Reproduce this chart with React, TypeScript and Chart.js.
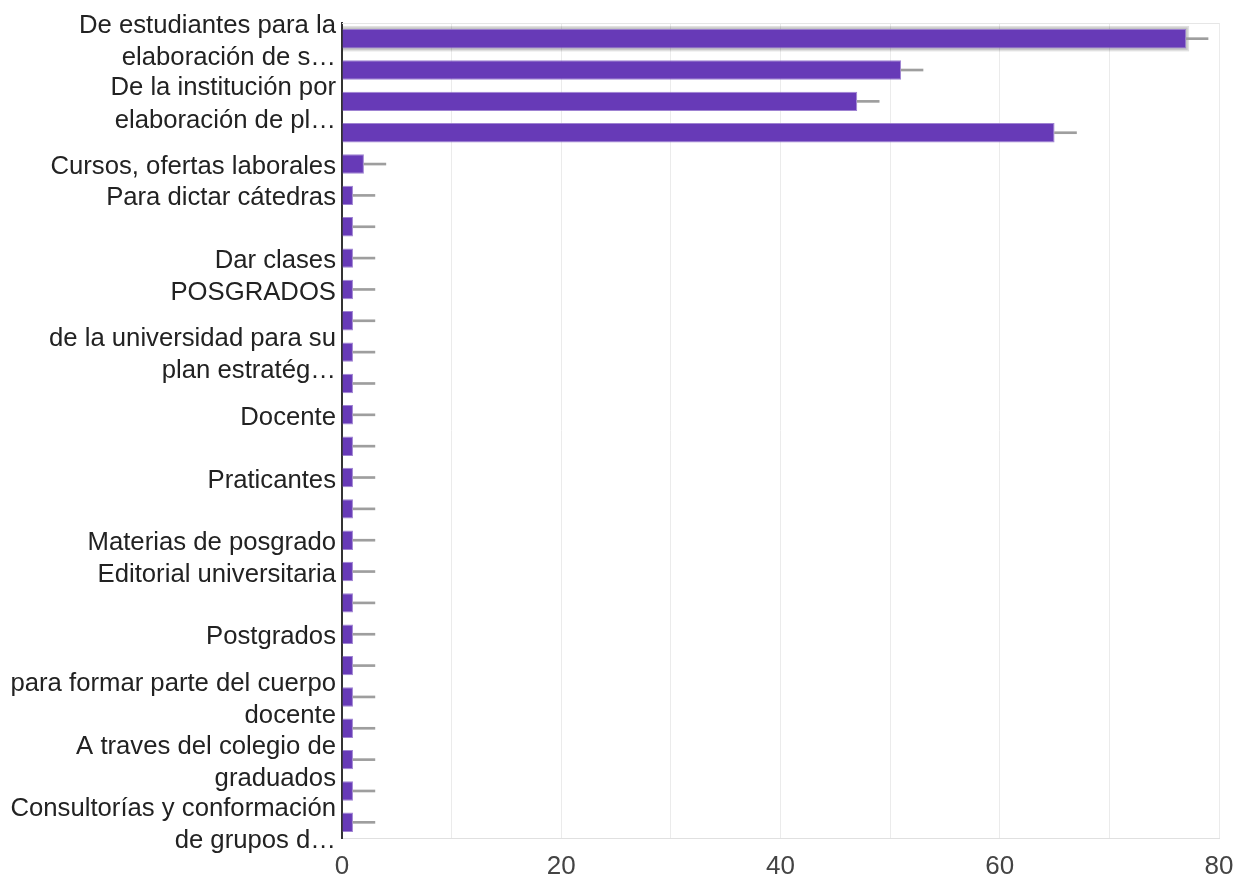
import React, { useEffect, useRef } from "react";
import { Chart, registerables } from "chart.js";

Chart.register(...registerables);

const categories: (string | string[])[] = [
  ["De estudiantes para la", "elaboración de s…"],
  "",
  ["De la institución por", "elaboración de pl…"],
  "",
  "Cursos, ofertas laborales",
  "Para dictar cátedras",
  "",
  "Dar clases",
  "POSGRADOS",
  "",
  ["de la universidad para su", "plan estratég…"],
  "",
  "Docente",
  "",
  "Praticantes",
  "",
  "Materias de posgrado",
  "Editorial universitaria",
  "",
  "Postgrados",
  "",
  ["para formar parte del cuerpo", "docente"],
  "",
  ["A traves del colegio de", "graduados"],
  "",
  ["Consultorías y conformación", "de grupos d…"],
];

const counts = [77, 51, 47, 65, 2, 1, 1, 1, 1, 1, 1, 1, 1, 1, 1, 1, 1, 1, 1, 1, 1, 1, 1, 1, 1, 1];
const errorHigh = [79, 53, 49, 67, 4, 3, 3, 3, 3, 3, 3, 3, 3, 3, 3, 3, 3, 3, 3, 3, 3, 3, 3, 3, 3, 3];
const xTickLabels = [0, 20, 40, 60, 80];

const FONT = "'Liberation Sans', Arial, sans-serif";
const BAR = "#673ab7";

const framePlugin = {
  id: "frame",
  beforeDatasetsDraw(chart: any) {
    const { ctx, chartArea } = chart;
    ctx.save();
    ctx.strokeStyle = "#e6e6e6";
    ctx.lineWidth = 1;
    ctx.beginPath();
    ctx.moveTo(chartArea.left, chartArea.top + 0.5);
    ctx.lineTo(chartArea.right + 0.5, chartArea.top + 0.5);
    ctx.stroke();
    const el: any = chart.getDatasetMeta(0).data[0];
    if (el) {
      const p = el.getProps(["x", "y", "base", "height"], true);
      const left = Math.min(p.base, p.x);
      const right = Math.max(p.base, p.x);
      ctx.fillStyle = "rgba(0,0,0,0.12)";
      ctx.fillRect(left, p.y - p.height / 2 - 3, right - left + 3, p.height + 6);
      ctx.fillRect(left, p.y - p.height / 2 - 1.5, right - left + 1.5, p.height + 3);
    }
    ctx.restore();
  },
};

export default function App() {
  const ref = useRef<HTMLCanvasElement | null>(null);
  useEffect(() => {
    if (!ref.current) return;
    const chart = new Chart(ref.current, {
      type: "bar",
      data: {
        labels: categories,
        datasets: [
          {
            data: counts,
            backgroundColor: BAR,
            borderColor: "rgba(149,117,205,0.9)",
            borderWidth: 1,
            categoryPercentage: 1,
            barPercentage: 0.62,
            grouped: false,
            order: 2,
          },
          {
            data: counts.map((v, i) => [v, errorHigh[i]]) as any,
            backgroundColor: "#9e9e9e",
            borderWidth: 0,
            barThickness: 2,
            grouped: false,
            order: 1,
          },
        ],
      },
      options: {
        indexAxis: "y",
        animation: false,
        responsive: true,
        maintainAspectRatio: false,
        layout: { padding: { left: 0, right: 30, top: 23, bottom: 0 } },
        plugins: { legend: { display: false }, tooltip: { enabled: false } },
        scales: {
          x: {
            min: 0,
            max: 80,
            afterFit: (scale: any) => {
              scale.height = 41;
            },
            ticks: {
              stepSize: 10,
              autoSkip: false,
              maxRotation: 0,
              padding: 13,
              color: "#444",
              font: { family: FONT, size: 26 },
              callback: (v: any) => (xTickLabels.includes(Number(v)) ? String(v) : ""),
            },
            grid: { color: "#ebebeb", drawTicks: false, lineWidth: 1 },
            border: { display: true, color: "#e0e0e0" },
          },
          y: {
            afterFit: (scale: any) => {
              scale.width = 342;
              scale.paddingTop = 0;
              scale.paddingBottom = 0;
            },
            ticks: {
              autoSkip: false,
              padding: 6,
              labelOffset: 3,
              color: "#222",
              font: { family: FONT, size: 25.7, lineHeight: 1.25 },
            },
            grid: { display: false, drawTicks: false },
            border: { display: true, color: "#333", width: 2 },
          },
        },
      },
      plugins: [framePlugin],
    });
    return () => chart.destroy();
  }, []);
  return (
    <div style={{ position: "fixed", left: 0, top: 0, width: 1249, height: 879, background: "#fff" }}>
      <canvas ref={ref} />
    </div>
  );
}
